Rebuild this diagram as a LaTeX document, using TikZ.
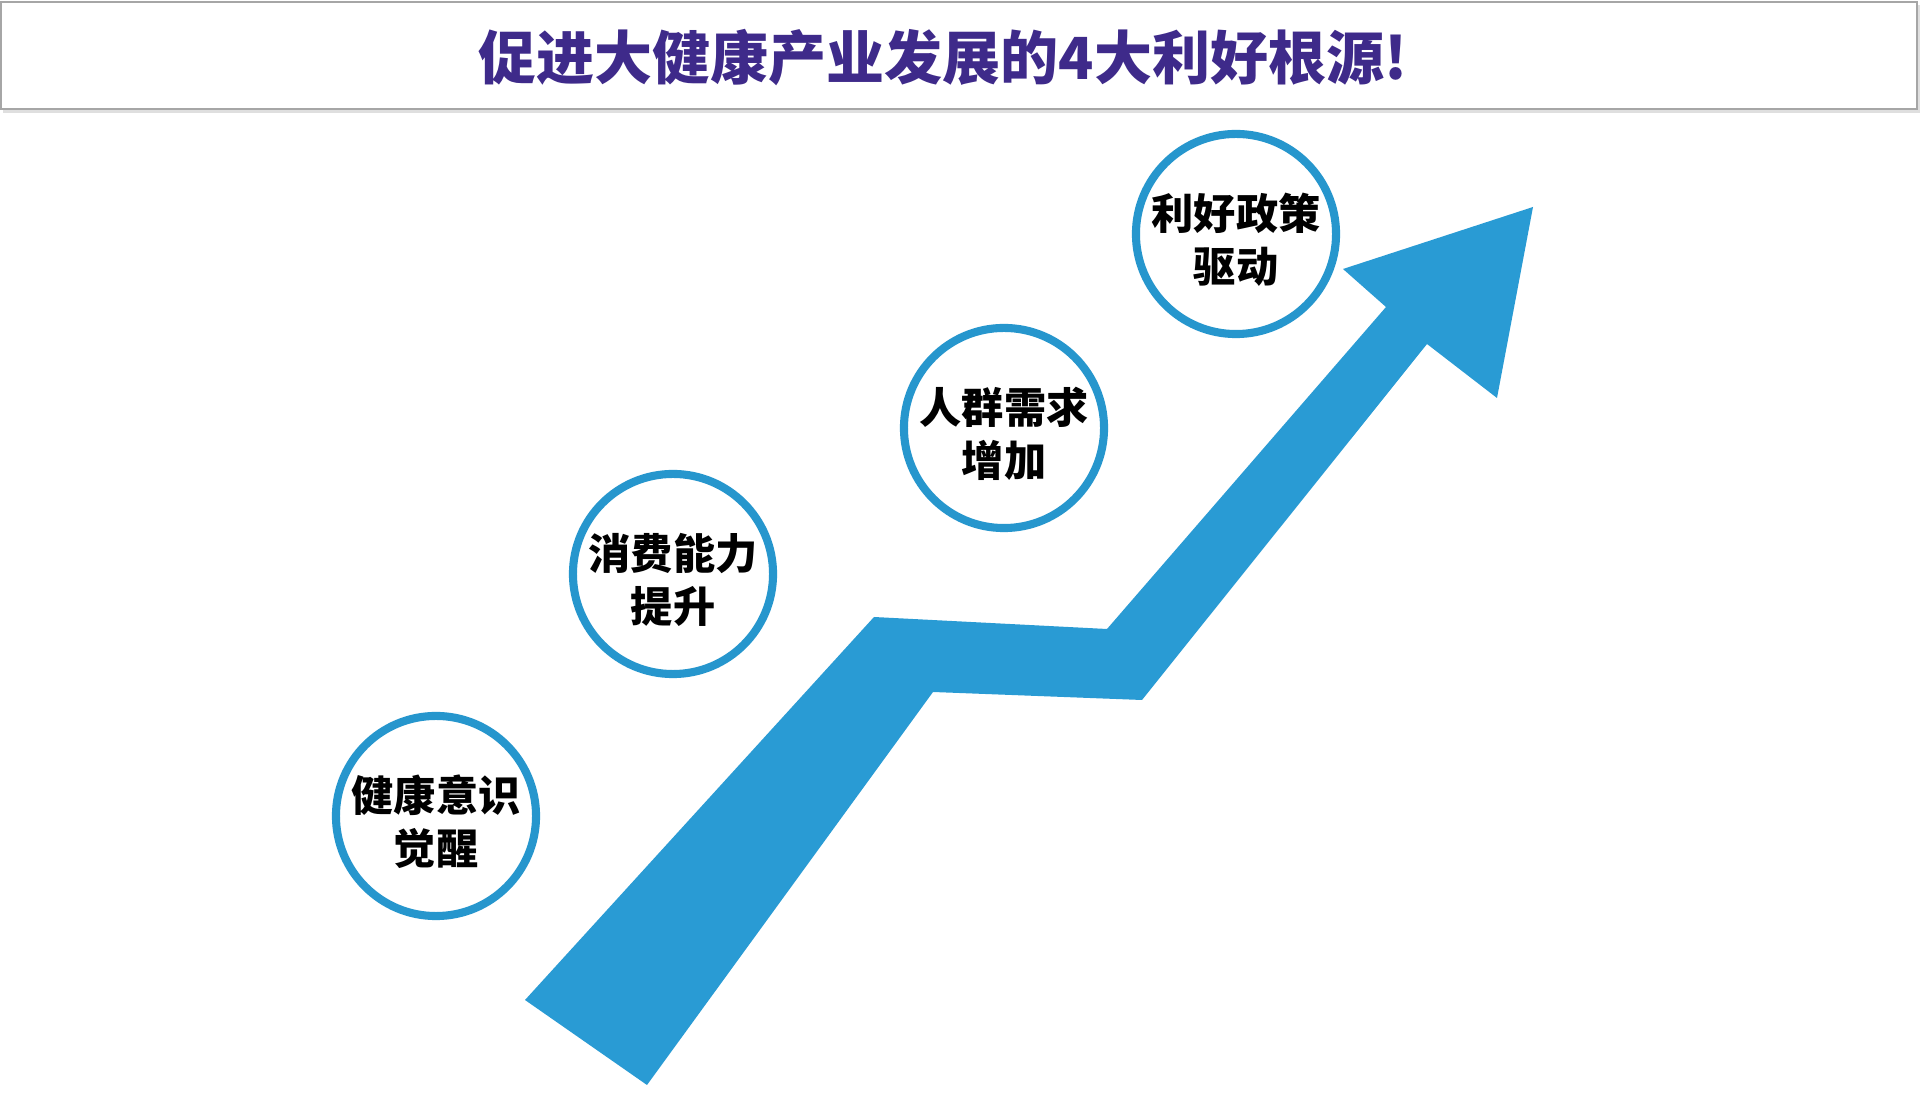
\documentclass[tikz,border=0pt]{standalone}
\usepackage{fontspec}
\newfontfamily\cjkblack{Noto Sans CJK SC Black}
\definecolor{arrowblue}{RGB}{41,155,212}
\definecolor{ringblue}{RGB}{38,150,205}
\definecolor{titlepurple}{RGB}{62,42,138}
\tikzset{
  ring/.style={circle, draw=ringblue, line width=2.3pt, fill=white, minimum size=2cm, inner sep=0pt},
  ringtext/.style={align=center, inner sep=0pt, font=\cjkblack\fontsize{12}{15}\selectfont},
  titlebar/.style={draw=gray!70, line width=0.6pt, fill=white},
}
\begin{document}
\begin{tikzpicture}[x=0.01cm, y=-0.01cm]
          \useasboundingbox[fill=white] (0,0) rectangle (1920,1113);
          \fill[gray!25] (3,5) rectangle (1920,113);
          \draw[titlebar] (1,2) rectangle (1917,109);
          \node[text=titlepurple, font=\cjkblack\fontsize{16.5}{20}\selectfont] (title) at (943,58) {促进大健康产业发展的4大利好根源!};
          \coordinate (a0) at (525,1000);
          \coordinate (a1) at (874,617);
          \coordinate (a2) at (1107,629);
          \coordinate (a3) at (1386,307);
          \coordinate (a4) at (1343,269);
          \coordinate (a5) at (1533,207);
          \coordinate (a6) at (1497,398);
          \coordinate (a7) at (1427,344);
          \coordinate (a8) at (1142,700);
          \coordinate (a9) at (933,692);
          \coordinate (a10) at (647,1085);
          \fill[arrowblue] (a0) -- (a1) -- (a2) -- (a3) -- (a4) -- (a5) -- (a6) -- (a7) -- (a8) -- (a9) -- (a10) -- cycle;
          \node[ring] (c1) at (436,816) {};
          \node[ringtext] (c1t) at ([yshift=-1.7pt]c1.center) {健康意识\\觉醒};
          \node[ring] (c2) at (673,574) {};
          \node[ringtext] (c2t) at ([yshift=-1.7pt]c2.center) {消费能力\\提升};
          \node[ring] (c3) at (1004,428) {};
          \node[ringtext] (c3t) at ([yshift=-1.7pt]c3.center) {人群需求\\增加};
          \node[ring] (c4) at (1236,234) {};
          \node[ringtext] (c4t) at ([yshift=-1.7pt]c4.center) {利好政策\\驱动};
        \end{tikzpicture}
\end{document}
